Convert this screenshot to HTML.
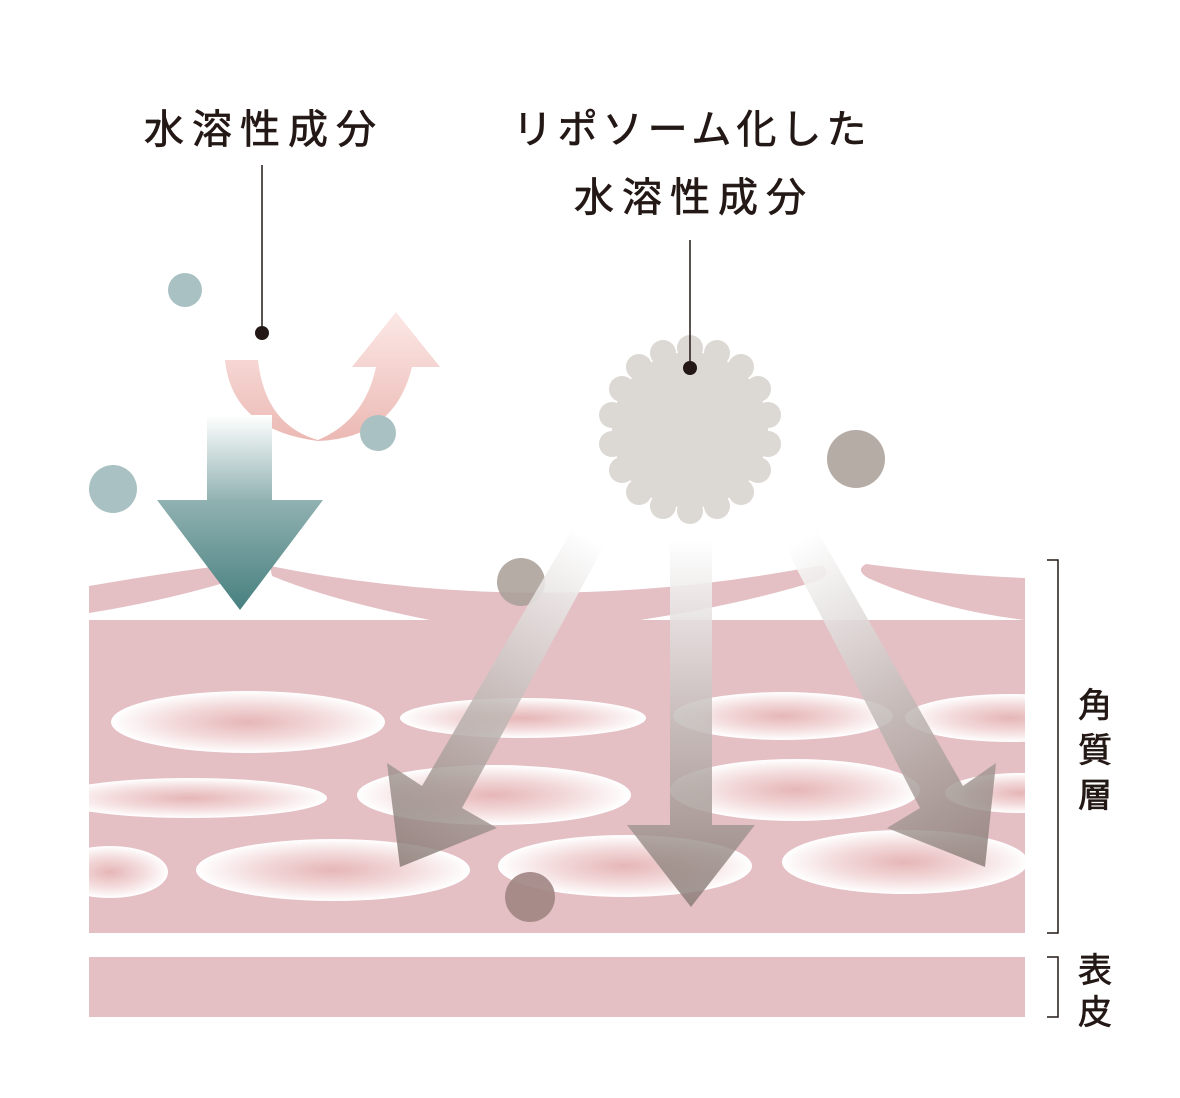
<!DOCTYPE html>
<html><head><meta charset="utf-8"><style>
html,body{margin:0;padding:0;background:#fff}
svg{display:block}
text{font-family:"Liberation Sans","Noto Sans CJK JP",sans-serif;fill:#231815;stroke:#231815;stroke-width:0.7}
</style></head><body>
<svg width="1180" height="1098" viewBox="0 0 1180 1098" xmlns="http://www.w3.org/2000/svg">
<defs>
<radialGradient id="ell" cx="50%" cy="50%" r="50%">
<stop offset="0" stop-color="#e6b6b7"/><stop offset="0.55" stop-color="#f3dadb"/><stop offset="1" stop-color="#ffffff"/>
</radialGradient>
<linearGradient id="teal" x1="0" y1="415" x2="0" y2="610" gradientUnits="userSpaceOnUse">
<stop offset="0" stop-color="#ffffff"/><stop offset="0.45" stop-color="#8fb0b0"/><stop offset="1" stop-color="#47807f"/>
</linearGradient>
<linearGradient id="pinkA" x1="0" y1="440" x2="0" y2="312" gradientUnits="userSpaceOnUse">
<stop offset="0" stop-color="#ecb9b4"/><stop offset="1" stop-color="#fbe8e6"/>
</linearGradient>
<linearGradient id="grayV" x1="0" y1="540" x2="0" y2="907" gradientUnits="userSpaceOnUse">
<stop offset="0" stop-color="#ffffff" stop-opacity="0.9"/><stop offset="1" stop-color="#867872" stop-opacity="0.8"/>
</linearGradient>
<linearGradient id="grayL" x1="595" y1="540" x2="410" y2="868" gradientUnits="userSpaceOnUse">
<stop offset="0" stop-color="#ffffff" stop-opacity="0.9"/><stop offset="1" stop-color="#867872" stop-opacity="0.8"/>
</linearGradient>
<linearGradient id="grayR" x1="800" y1="540" x2="990" y2="868" gradientUnits="userSpaceOnUse">
<stop offset="0" stop-color="#ffffff" stop-opacity="0.9"/><stop offset="1" stop-color="#867872" stop-opacity="0.8"/>
</linearGradient>
</defs>

<g fill="#e4bfc4">
<path d="M89 586 Q170 572 235 564 Q248 566 240 578 Q170 600 89 613 Z"/>
<path d="M270 566 Q540 620 822 565 Q832 572 820 580 Q740 605 640 620 L430 620 Q330 600 272 576 Z"/>
<path d="M866 564 Q950 575 1025 578 L1025 620 Q940 610 868 578 Q855 570 866 564 Z"/>
<rect x="89" y="620" width="936" height="313"/>
<rect x="89" y="957" width="936" height="60"/>
</g>
<clipPath id="sk"><rect x="89" y="620" width="936" height="313"/></clipPath>
<g clip-path="url(#sk)" fill="url(#ell)">
<ellipse cx="248" cy="722" rx="137" ry="31"/>
<ellipse cx="523" cy="718" rx="123" ry="20"/>
<ellipse cx="783" cy="716" rx="110" ry="24"/>
<ellipse cx="1010" cy="718" rx="105" ry="24"/>
<ellipse cx="190" cy="798" rx="137" ry="20"/>
<ellipse cx="494" cy="795" rx="137" ry="30"/>
<ellipse cx="795" cy="790" rx="125" ry="31"/>
<ellipse cx="1020" cy="793" rx="75" ry="20"/>
<ellipse cx="110" cy="872" rx="58" ry="26"/>
<ellipse cx="333" cy="870" rx="137" ry="31"/>
<ellipse cx="625" cy="866" rx="127" ry="31"/>
<ellipse cx="905" cy="862" rx="123" ry="32"/>
</g>

<text x="264" y="143" font-size="40" text-anchor="middle" letter-spacing="8">水溶性成分</text>
<text x="692" y="143" font-size="40" text-anchor="middle" letter-spacing="5">リポソーム化した</text>
<text x="694" y="211" font-size="40" text-anchor="middle" letter-spacing="8">水溶性成分</text>
<line x1="262" y1="165" x2="262" y2="333" stroke="#231815" stroke-width="1.5"/>
<circle cx="262" cy="333" r="7" fill="#231815"/>

<path d="M225 360 L258 360 Q265 425 318 440 Q365 420 376 367 L352 367 L396 312 L440 367 L412 367 Q395 438 318 441 Q232 430 225 360 Z" fill="url(#pinkA)"/>

<path d="M207 415 L272 415 L272 500 L323 500 L240 610 L157 500 L207 500 Z" fill="url(#teal)"/>

<circle cx="185" cy="290" r="17" fill="#a9c1c2"/>
<circle cx="113" cy="489" r="24" fill="#a9c1c2"/>
<circle cx="378" cy="433" r="18" fill="#a9c1c2"/>
<circle cx="856" cy="459" r="29" fill="#b6aca6"/>

<g fill="#dcd8d3">
<circle cx="690" cy="430" r="78"/>
<circle cx="690" cy="348" r="13"/><circle cx="717" cy="353" r="13"/><circle cx="741" cy="367" r="13"/><circle cx="758" cy="389" r="13"/><circle cx="768" cy="415" r="13"/><circle cx="768" cy="444" r="13"/><circle cx="758" cy="470" r="13"/><circle cx="741" cy="492" r="13"/><circle cx="717" cy="506" r="13"/><circle cx="690" cy="511" r="13"/><circle cx="663" cy="506" r="13"/><circle cx="639" cy="492" r="13"/><circle cx="622" cy="470" r="13"/><circle cx="612" cy="444" r="13"/><circle cx="612" cy="415" r="13"/><circle cx="622" cy="389" r="13"/><circle cx="639" cy="367" r="13"/><circle cx="663" cy="353" r="13"/>
</g>
<line x1="690" y1="240" x2="690" y2="368" stroke="#231815" stroke-width="1.5"/>
<circle cx="690" cy="368" r="7" fill="#231815"/>

<circle cx="521" cy="582" r="24" fill="#a89d97" opacity="0.85"/>

<path d="M670 540 L712 540 L712 825 L755 825 L691 907 L627 825 L670 825 Z" fill="url(#grayV)"/>
<path d="M572 530 L603 548 L462 808 L497 828 L400 867 L387 763 L422 786 Z" fill="url(#grayL)"/>
<path d="M786 548 L817 530 L963 786 L996 763 L985 867 L887 828 L920 808 Z" fill="url(#grayR)"/>

<circle cx="530" cy="897" r="25" fill="#a08583" opacity="0.9"/>

<g stroke="#231815" stroke-width="1.5" fill="none">
<polyline points="1047,560 1058,560 1058,933 1047,933"/>
<polyline points="1047,957 1058,957 1058,1017 1047,1017"/>
</g>
<g font-size="34" text-anchor="middle">
<text x="1095" y="717">角</text>
<text x="1095" y="762">質</text>
<text x="1095" y="807">層</text>
<text x="1095" y="982">表</text>
<text x="1095" y="1024">皮</text>
</g>
</svg>
</body></html>
